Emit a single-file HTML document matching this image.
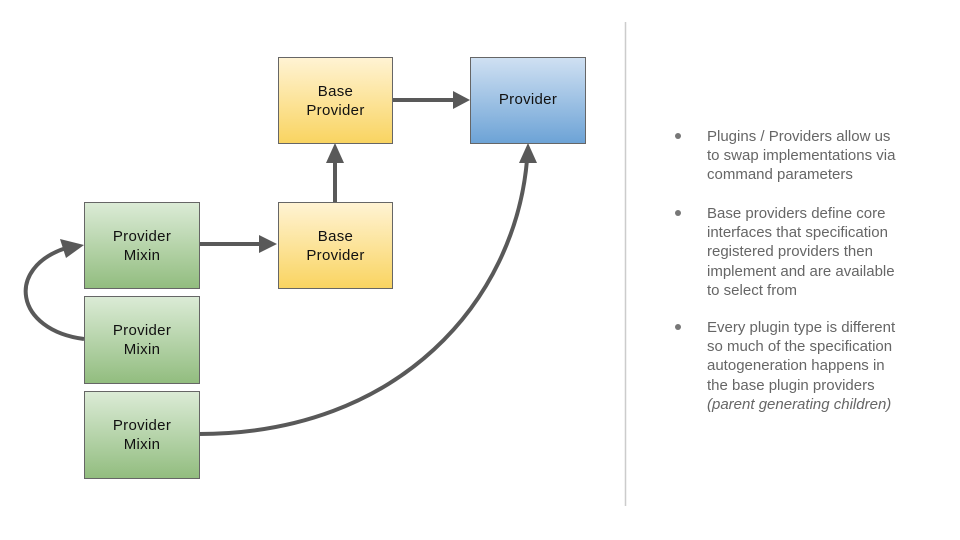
<!DOCTYPE html>
<html><head><style>
body{margin:0;width:960px;height:540px;background:#fff;position:relative;overflow:hidden;font-family:"Liberation Sans",sans-serif}
.b{position:absolute;box-sizing:border-box;border:1px solid #666;display:flex;align-items:center;justify-content:center;text-align:center;font-size:15px;line-height:19px;color:#111;letter-spacing:0.3px}
.y{background:linear-gradient(#fff3d3,#f9d461)}
.g{background:linear-gradient(#dbebd6,#92bd7f)}
.bl{background:linear-gradient(#cfe0f2,#6da3d6)}
.t{position:absolute;left:707px;font-size:15px;line-height:19.2px;color:#666}
.d{position:absolute;left:675px;width:6px;height:6px;border-radius:50%;background:#777}
</style></head><body>
<svg width="960" height="540" style="position:absolute;left:0;top:0">
<g stroke="#595959" stroke-width="4" fill="none">
<line x1="392" y1="100" x2="455" y2="100"/>
<line x1="335" y1="202" x2="335" y2="160"/>
<line x1="199" y1="244" x2="262" y2="244"/>
<path d="M84,339 C15,330 5,268 66,248"/>
<path d="M199,434 C400,434 515,300 527,160"/>
</g>
<g fill="#595959">
<path d="M470,100 L453,91 L453,109z"/>
<path d="M335,143 L326,163 L344,163z"/>
<path d="M277,244 L259,235 L259,253z"/>
<path d="M84,245 L60,239 L66,258z"/>
<path d="M528,143 L519,163 L537,163z"/>
</g>
<line x1="625.5" y1="22" x2="625.5" y2="506" stroke="#ccc" stroke-width="1.5"/>
</svg>
<div class="b y" style="left:278px;top:57px;width:115px;height:87px">Base<br>Provider</div>
<div class="b bl" style="left:470px;top:57px;width:116px;height:87px;padding-bottom:2px">Provider</div>
<div class="b g" style="left:84px;top:202px;width:116px;height:87px">Provider<br>Mixin</div>
<div class="b y" style="left:278px;top:202px;width:115px;height:87px">Base<br>Provider</div>
<div class="b g" style="left:84px;top:296px;width:116px;height:88px">Provider<br>Mixin</div>
<div class="b g" style="left:84px;top:391px;width:116px;height:88px">Provider<br>Mixin</div>
<div class="d" style="top:133px"></div>
<div class="t" style="top:127px">Plugins / Providers allow us<br>to swap implementations via<br>command parameters</div>
<div class="d" style="top:210px"></div>
<div class="t" style="top:204px">Base providers define core<br>interfaces that specification<br>registered providers then<br>implement and are available<br>to select from</div>
<div class="d" style="top:324px"></div>
<div class="t" style="top:318px">Every plugin type is different<br>so much of the specification<br>autogeneration happens in<br>the base plugin providers<br><i>(parent generating children)</i></div>
</body></html>
